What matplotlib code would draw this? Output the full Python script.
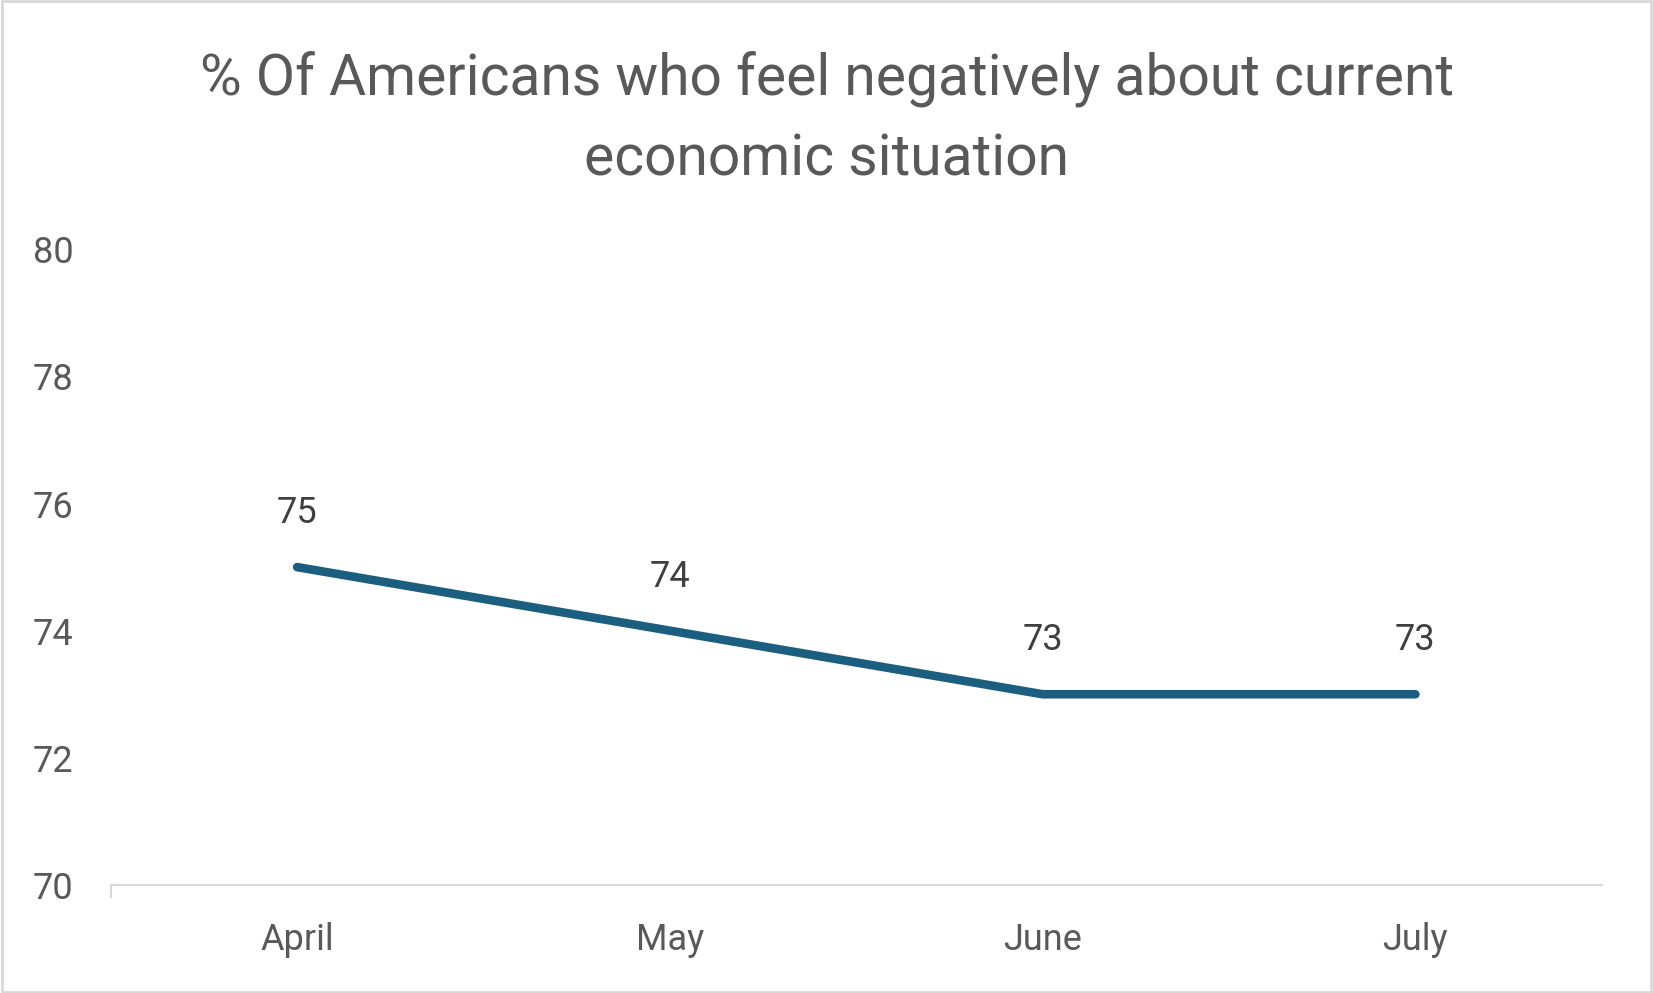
import matplotlib.pyplot as plt
from matplotlib.patches import Rectangle

meses = ["April", "May", "June", "July"]
valores = [75, 74, 73, 73]
yticks = [70, 72, 74, 76, 78, 80]

color_linea = "#1b5e80"
gris_texto = "#595959"
gris_eje = "#d9d9d9"

plt.rcParams["font.family"] = ["Roboto", "DejaVu Sans"]

fig = plt.figure(figsize=(16.53, 9.93), dpi=100)
ax = fig.add_axes([0.067, 0.1088, 0.902, 0.6402])

x = list(range(len(meses)))
ax.plot(x, valores, color=color_linea, linewidth=6.2, solid_capstyle="round")

# etiquetas de datos
for xi, v in zip(x, valores):
    ax.annotate(str(v), (xi, v), xytext=(0, 39), textcoords="offset points",
                ha="center", va="center", fontsize=26, color="#404040")

ax.set_xlim(-0.5, 3.5)
ax.set_ylim(70, 80)
ax.set_xticks(x)
ax.set_xticklabels(meses)
ax.set_xticks([-0.5], minor=True)
ax.set_yticks(yticks)
ax.tick_params(axis="x", which="major", length=0, pad=27, labelsize=26, labelcolor=gris_texto)
ax.tick_params(axis="x", which="minor", length=9, width=1.5, color=gris_eje, direction="out")
ax.tick_params(axis="y", length=0, pad=27, labelsize=26, labelcolor=gris_texto)
for lbl in ax.get_yticklabels():
    lbl.set_horizontalalignment("right")

for s in ["top", "right", "left"]:
    ax.spines[s].set_visible(False)
ax.spines["bottom"].set_color(gris_eje)
ax.spines["bottom"].set_linewidth(1.5)

fig.text(0.5, 0.880, "% Of Americans who feel negatively about current\neconomic situation",
         ha="center", va="center", fontsize=41, color=gris_texto, linespacing=1.58)

# borde del grafico
fig.patches.append(Rectangle((0.001, 0.001), 0.998, 0.998, transform=fig.transFigure,
                             fill=False, edgecolor=gris_eje, linewidth=2))

fig.savefig("out.png", dpi=100, facecolor="white")
